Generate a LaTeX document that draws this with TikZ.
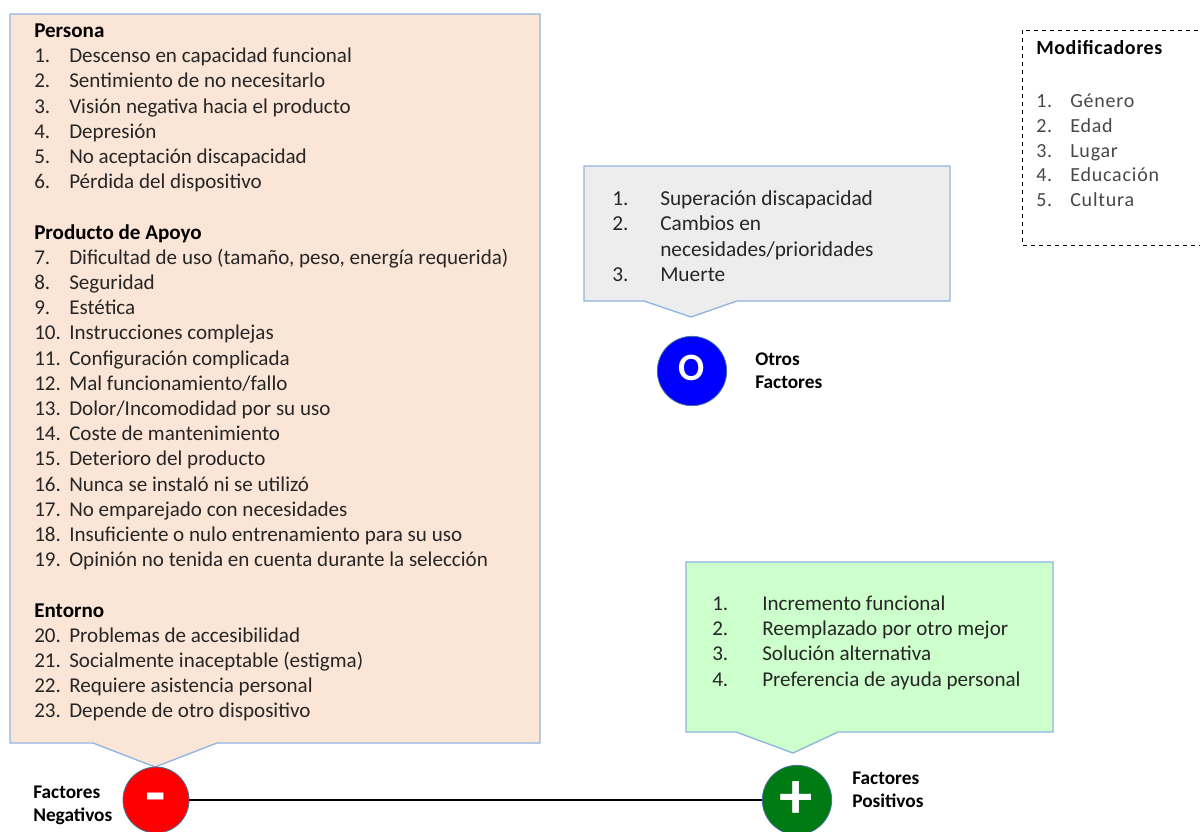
\documentclass[tikz,border=0pt]{standalone}
\usepackage{fontspec}
\setmainfont{Carlito}
\usepackage{array}
\definecolor{peach}{HTML}{FBE5D6}
\definecolor{lgray}{HTML}{EDEDED}
\definecolor{lgreen}{HTML}{CCFFCC}
\definecolor{cborder}{HTML}{8FB4E0}
\definecolor{ink}{HTML}{262626}
\definecolor{ringc}{HTML}{41719C}
\definecolor{dgreen}{HTML}{007A12}
\newcommand\modf{\leavevmode\color{ink!85}\addfontfeatures{LetterSpace=4}}
\begin{document}
\begin{tikzpicture}[x=0.75pt,y=-0.75pt,
  callout/.style={draw=cborder,line width=1pt,line join=miter},
  txt/.style={inner sep=0pt,anchor=base west,text=ink,font=\fontsize{15.8}{18.9}\selectfont},
  lbl/.style={inner sep=0pt,anchor=base west,align=left,text=black,font=\fontsize{14.5}{17.25}\selectfont\bfseries},
  disc/.style={circle,draw=ringc,line width=0.6pt,inner sep=0pt},
  sym/.style={inner sep=0pt,text=white,font=\fontsize{50}{52}\selectfont\bfseries}]
\useasboundingbox (0,0) rectangle (1200,832);
% callout shapes
\path[callout,fill=peach] (10,14) -- (540,14) -- (540,743) -- (217,743) -- (155,767) -- (93,743) -- (10,743) -- cycle;
\path[callout,fill=lgray] (584,166) -- (950,166) -- (950,301) -- (737,301) -- (691,317) -- (644,301) -- (584,301) -- cycle;
\path[callout,fill=lgreen] (686,562) -- (1053,562) -- (1053,732) -- (838,732) -- (793,753) -- (736,732) -- (686,732) -- cycle;
\draw[dashed,line width=0.6pt] (1022,30) rectangle (1203,245);
% texts
\node[txt] (negtxt) at (34,37.5) {\begin{tabular}[t]{@{}p{26.25pt}@{}l@{}}
\multicolumn{2}{@{}l@{}}{\textcolor{black}{\bfseries Persona}}\\
1.&Descenso en capacidad funcional\\
2.&Sentimiento de no necesitarlo\\
3.&Visión negativa hacia el producto\\
4.&Depresión\\
5.&No aceptación discapacidad\\
6.&Pérdida del dispositivo\\
&\\
\multicolumn{2}{@{}l@{}}{\textcolor{black}{\bfseries Producto de Apoyo}}\\
7.&Dificultad de uso (tamaño, peso, energía requerida)\\
8.&Seguridad\\
9.&Estética\\
10.&Instrucciones complejas\\
11.&Configuración complicada\\
12.&Mal funcionamiento/fallo\\
13.&Dolor/Incomodidad por su uso\\
14.&Coste de mantenimiento\\
15.&Deterioro del producto\\
16.&Nunca se instaló ni se utilizó\\
17.&No emparejado con necesidades\\
18.&Insuficiente o nulo entrenamiento para su uso\\
19.&Opinión no tenida en cuenta durante la selección\\
&\\
\multicolumn{2}{@{}l@{}}{\textcolor{black}{\bfseries Entorno}}\\
20.&Problemas de accesibilidad\\
21.&Socialmente inaceptable (estigma)\\
22.&Requiere asistencia personal\\
23.&Depende de otro dispositivo
\end{tabular}};
\node[txt,font=\fontsize{16}{19.1}\selectfont] (othtxt) at (612,205.5) {\begin{tabular}[t]{@{}p{36pt}@{}l@{}}
1.&Superación discapacidad\\
2.&Cambios en\\
&necesidades/prioridades\\
3.&Muerte
\end{tabular}};
\node[txt,font=\fontsize{15.8}{19}\selectfont] (postxt) at (712,610) {\begin{tabular}[t]{@{}p{37.5pt}@{}l@{}}
1.&Incremento funcional\\
2.&Reemplazado por otro mejor\\
3.&Solución alternativa\\
4.&Preferencia de ayuda personal
\end{tabular}};
\node[txt,font=\fontsize{15}{18.6}\selectfont] (modtxt) at (1036,54.5) {\begin{tabular}[t]{@{}>{\modf}p{25.5pt}@{}>{\modf}l@{}}
\multicolumn{2}{@{}l@{}}{\textcolor{black}{\bfseries\addfontfeatures{LetterSpace=3}Modificadores}}\\
\multicolumn{2}{@{}l@{}}{}\\[2.6pt]
1.&Género\\
2.&Edad\\
3.&Lugar\\
4.&Educación\\
5.&Cultura
\end{tabular}};
% discs
\node[disc,fill=red,minimum size=49.5pt] (neg) at (156,800) {};
\node[disc,fill=dgreen,minimum size=52pt] (pos) at (797,800) {};
\node[disc,fill=blue,minimum size=52pt] (oth) at (692,371) {};
\node[sym,anchor=base] (minus) at (156,815) {-};
\node[sym,anchor=center] (plus) at (796,800) {+};
\node[sym,anchor=center,font=\fontsize{29}{30}\selectfont\bfseries] (ohh) at (692,368) {O};
% connector
\draw[line width=1pt] (neg) -- (pos);
% labels
\node[lbl] (neglbl) at (33,821) {Factores\\Negativos};
\node[lbl] (poslbl) at (852,807) {Factores\\Positivos};
\node[lbl] (othlbl) at (755,388) {Otros\\Factores};
\end{tikzpicture}
\end{document}
